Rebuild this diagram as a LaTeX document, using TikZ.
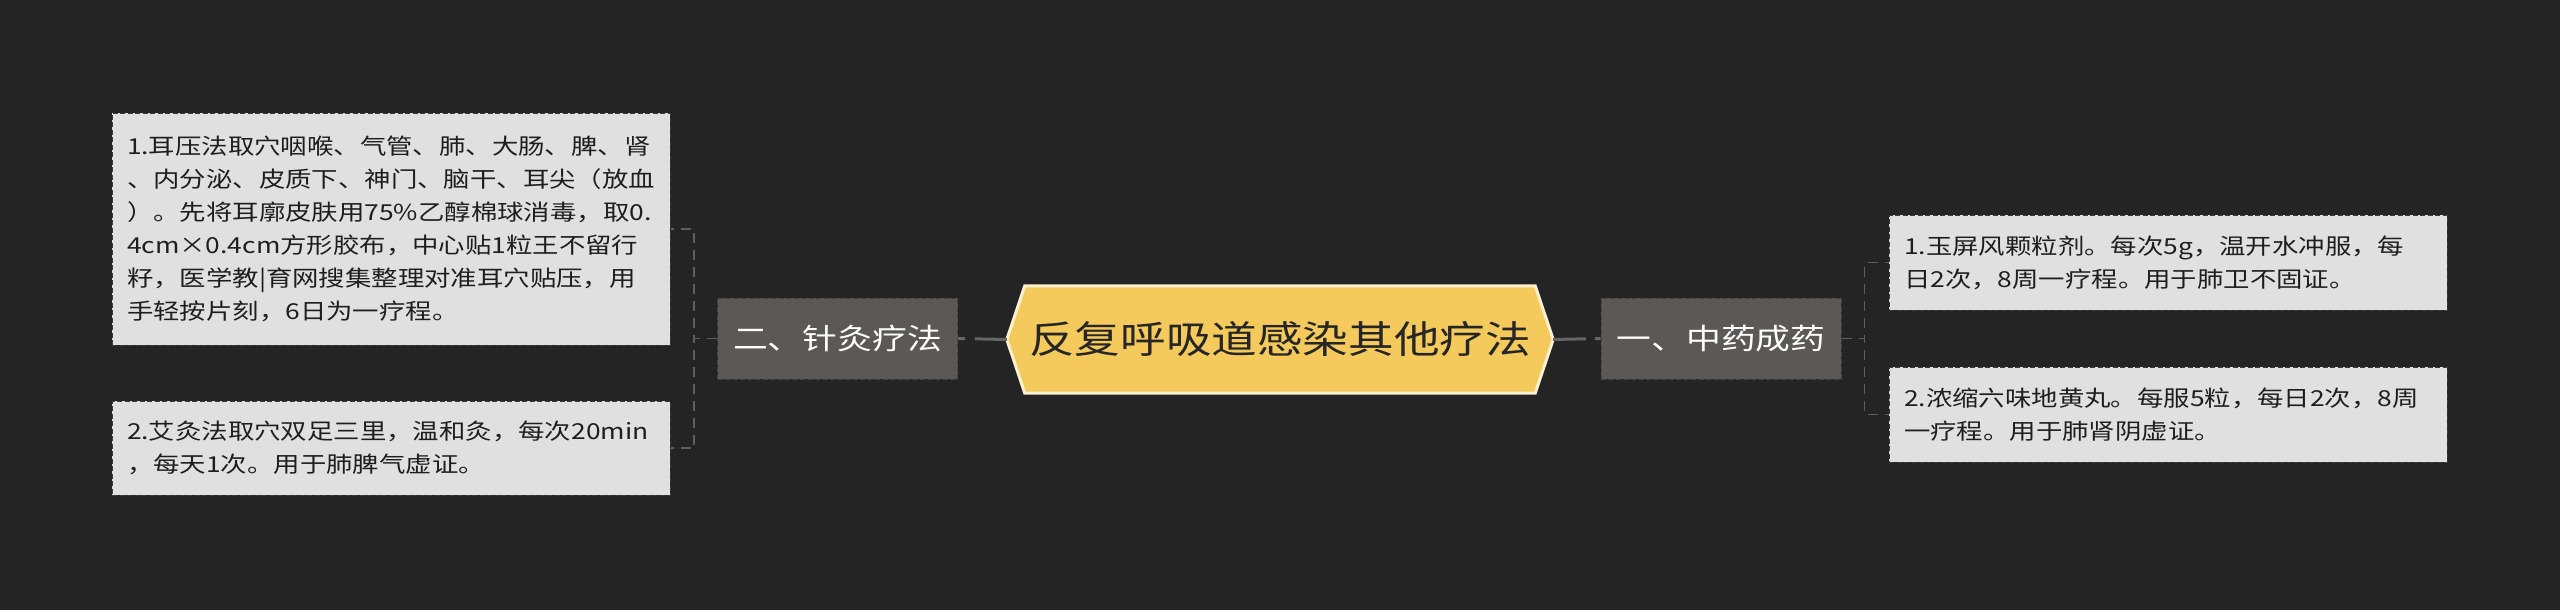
\documentclass[tikz,border=0pt]{standalone}
\usepackage{fontspec}
\setmainfont[FakeStretch=1.2]{Noto Sans CJK SC}
\usetikzlibrary{backgrounds}
\definecolor{bgc}{HTML}{242424}
\definecolor{leaffill}{HTML}{E0E0E0}
\definecolor{leafborder}{HTML}{3A3A3A}
\definecolor{leaftext}{HTML}{1E1E1E}
\definecolor{branchfill}{HTML}{5B5856}
\definecolor{branchborder}{HTML}{45423F}
\definecolor{hexfill}{HTML}{F5CA5C}
\definecolor{hexborder}{HTML}{FAF1D2}
\definecolor{mainline}{HTML}{666666}
\definecolor{subline}{HTML}{5E5E5E}
\begin{document}
\begin{tikzpicture}[x=1pt,y=-1pt,
  leaf/.style={draw=leafborder, fill=leaffill, dash pattern=on 5pt off 2.5pt, line width=1pt,
    inner xsep=15pt, inner ysep=0pt, align=left, text width=528pt,
    font=\fontsize{22}{33}\selectfont, text=leaftext},
  branch/.style={draw=branchborder, fill=branchfill, dash pattern=on 5pt off 2.5pt, line width=1pt,
    minimum width=240pt, minimum height=81pt, inner sep=0pt,
    font=\fontsize{29}{34}\selectfont, text=white},
  centre/.style={minimum width=546pt, minimum height=107pt, inner sep=0pt,
    font=\fontsize{38}{46}\selectfont, text=black!85},
  mainconn/.style={draw=mainline, line width=3pt},
  subconn/.style={draw=subline, line width=1.5pt, dash pattern=on 10pt off 7pt}
]
\useasboundingbox (0,0) rectangle (2560,610);

\node[centre] (c) at (1280,339.5) {反复呼吸道感染其他疗法};
\node[branch] (bl) at (837.5,338.5) {二、针灸疗法};
\node[branch] (br) at (1721,338.5) {一、中药成药};

\node[leaf, minimum height=232pt] (l1) at (391,229) {1.耳压法取穴咽喉、气管、肺、大肠、脾、肾\\、内分泌、皮质下、神门、脑干、耳尖（放血\\）。先将耳廓皮肤用75\%乙醇棉球消毒，取0.\\4cm×0.4cm方形胶布，中心贴1粒王不留行\\籽，医学教|育网搜集整理对准耳穴贴压，用\\手轻按片刻，6日为一疗程。};
\node[leaf, minimum height=94pt] (l2) at (391,448) {2.艾灸法取穴双足三里，温和灸，每次20min\\，每天1次。用于肺脾气虚证。};
\node[leaf, minimum height=95pt] (r1) at (2168,262.5) {1.玉屏风颗粒剂。每次5g，温开水冲服，每\\日2次，8周一疗程。用于肺卫不固证。};
\node[leaf, minimum height=95pt] (r2) at (2168,414.5) {2.浓缩六味地黄丸。每服5粒，每日2次，8周\\一疗程。用于肺肾阴虚证。};

\begin{scope}[on background layer]
  \fill[bgc] (0,0) rectangle (2560,610);
  \draw[fill=hexfill, draw=hexborder, line width=3pt, line join=miter]
    (c.west) -- ([xshift=18pt]c.north west) -- ([xshift=-18pt]c.north east) -- (c.east)
    -- ([xshift=-18pt]c.south east) -- ([xshift=18pt]c.south west) -- cycle;
\end{scope}

\draw[mainconn, dash pattern=on 32pt off 10pt] (c.west) -- (bl.east);
\draw[mainconn, dash pattern=on 33pt off 9pt] (c.east) -- (br.west);

\draw[subconn] (bl.west) -- ++(-23,0) |- (l1.east);
\draw[subconn] (bl.west) -- ++(-23,0) |- (l2.east);
\draw[subconn] (br.east) -- ++(23,0) |- (r1.west);
\draw[subconn] (br.east) -- ++(23,0) |- (r2.west);
\end{tikzpicture}
\end{document}
